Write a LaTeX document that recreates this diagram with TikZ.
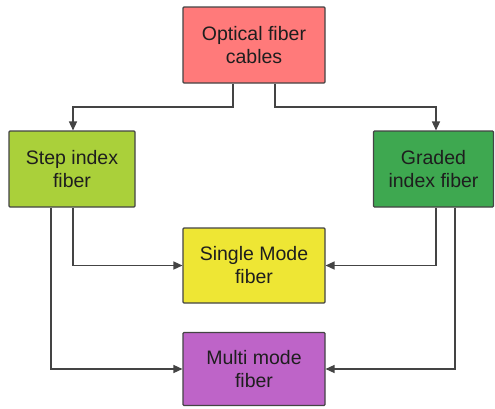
\documentclass[tikz,border=0pt]{standalone}
\usepackage{fontspec}
\setmainfont{Liberation Sans}
\usetikzlibrary{arrows.meta}
\definecolor{boxred}{RGB}{255,122,122}
\definecolor{boxlime}{RGB}{170,208,58}
\definecolor{boxgreen}{RGB}{62,168,80}
\definecolor{boxyellow}{RGB}{238,230,52}
\definecolor{boxpurple}{RGB}{190,100,200}
\definecolor{edgegrey}{RGB}{68,68,68}
\definecolor{txt}{RGB}{30,30,30}
\tikzset{
  fiberbox/.style={draw=edgegrey, line width=1.1pt, rounded corners=1pt,
    align=center, text=txt, inner sep=0pt,
    font=\fontsize{19.5}{23}\selectfont},
  link/.style={draw=edgegrey, line width=1.4pt,
    -{Triangle[length=9pt,width=8pt]}}
}
\begin{document}
\begin{tikzpicture}[x=1pt,y=-1pt]
  \useasboundingbox (0,0) rectangle (495,408);
  % boxes
  \node[fiberbox, fill=boxred, minimum width=142pt, minimum height=76pt]
    (top) at (254,45) {Optical fiber\\cables};
  \node[fiberbox, fill=boxlime, minimum width=126pt, minimum height=76pt]
    (step) at (72,169) {Step index\\fiber};
  \node[fiberbox, fill=boxgreen, minimum width=120pt, minimum height=76pt]
    (graded) at (433.5,169) {Graded\\index fiber};
  \node[fiberbox, fill=boxyellow, minimum width=142pt, minimum height=75pt]
    (single) at (254,265.5) {Single Mode\\fiber};
  \node[fiberbox, fill=boxpurple, minimum width=142pt, minimum height=73pt]
    (multi) at (254,369) {Multi mode\\fiber};
  % connectors from the top box
  \draw[link] (top.south -| 233,0) |- (0,107 -| 73,0) -- (step.north -| 73,0);
  \draw[link] (top.south -| 275,0) |- (0,107 -| 436,0) -- (graded.north -| 436,0);
  % connectors from the step index box
  \draw[link] (step.south -| 73,0) |- (single.west);
  \draw[link] (step.south -| 51,0) |- (multi.west);
  % connectors from the graded index box
  \draw[link] (graded.south -| 436,0) |- (single.east);
  \draw[link] (graded.south -| 455,0) |- (multi.east);
\end{tikzpicture}
\end{document}
